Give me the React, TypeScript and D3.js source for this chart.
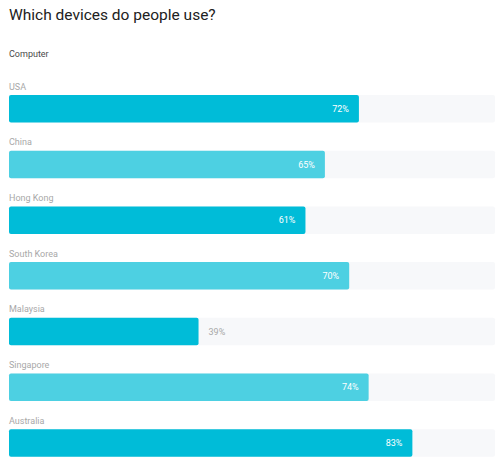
import { useEffect, useRef } from "react"
import * as d3 from "d3"

const countries = ["USA", "China", "Hong Kong", "South Korea", "Malaysia", "Singapore", "Australia"]
const computerShare = [72, 65, 61, 70, 39, 74, 83]
const barColors = ["#00bcd8", "#4dd0e2"]

export default function App() {
  const ref = useRef<SVGSVGElement | null>(null)

  useEffect(() => {
    const svg = d3.select(ref.current)
    svg.selectAll("*").remove()

    const width = 503
    const height = 464
    const left = 9
    const right = 495
    const font = "Roboto, 'Noto Sans', sans-serif"

    svg.attr("width", width).attr("height", height).style("font-family", font)

    svg.append("text")
      .attr("x", 9)
      .attr("y", 19.5)
      .attr("fill", "#212121")
      .attr("font-size", 15.5)
      .text("Which devices do people use?")

    svg.append("text")
      .attr("x", 9)
      .attr("y", 56.7)
      .attr("fill", "#4a4a4a")
      .attr("font-size", 9)
      .text("Computer")

    const x = d3.scaleLinear().domain([0, 100]).range([left, right])

    const y = d3.scaleBand<string>()
      .domain(countries)
      .range([95, 95 + 55.7 * countries.length])
      .paddingInner(0)

    const barH = 27.5

    const rows = svg.selectAll("g.row")
      .data(countries)
      .enter()
      .append("g")
      .attr("class", "row")
      .attr("transform", d => `translate(0,${y(d)})`)

    rows.append("text")
      .attr("x", left)
      .attr("y", -5.5)
      .attr("fill", "#a8a8a8")
      .attr("font-size", 9)
      .text(d => d)

    rows.append("rect")
      .attr("x", left)
      .attr("y", 0)
      .attr("width", x(100) - left)
      .attr("height", barH)
      .attr("rx", 2)
      .attr("fill", "#f7f8fa")

    rows.append("rect")
      .attr("x", left)
      .attr("y", 0)
      .attr("width", (_, i) => x(computerShare[i]) - left)
      .attr("height", barH)
      .attr("rx", 2)
      .attr("fill", (_, i) => barColors[i % 2])

    rows.append("text")
      .attr("x", (_, i) => computerShare[i] < 50 ? x(computerShare[i]) + 10 : x(computerShare[i]) - 10)
      .attr("y", barH / 2)
      .attr("dy", "0.35em")
      .attr("text-anchor", (_, i) => computerShare[i] < 50 ? "start" : "end")
      .attr("fill", (_, i) => computerShare[i] < 50 ? "#a8a8a8" : "#ffffff")
      .attr("font-size", 9)
      .text((_, i) => `${computerShare[i]}%`)
  }, [])

  return (
    <div style={{ position: "absolute", left: 0, top: 0 }}>
      <svg ref={ref} style={{ display: "block" }} />
    </div>
  )
}
